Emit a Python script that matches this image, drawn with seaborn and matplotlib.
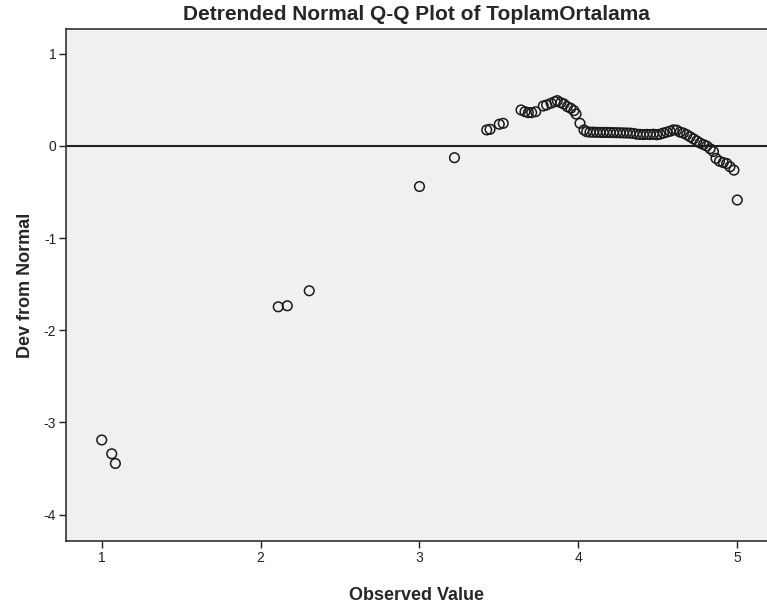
import numpy as np
import pandas as pd
import seaborn as sns
from matplotlib import pyplot as plt

observed = [1.000, 1.063, 1.086,
            2.111, 2.168, 2.306,
            3.000, 3.220,
            3.423, 3.444, 3.502, 3.527,
            3.639, 3.664, 3.685, 3.706, 3.731,
            3.779, 3.800, 3.828, 3.853, 3.867,
            3.889, 3.909, 3.930, 3.952, 3.972, 3.985,
            4.010, 4.035, 4.052,
            4.073, 4.094, 4.115, 4.136, 4.157, 4.178, 4.199, 4.220,
            4.241, 4.262, 4.283, 4.304, 4.325, 4.346, 4.367, 4.388,
            4.409, 4.430, 4.451, 4.472, 4.493, 4.514, 4.535, 4.556,
            4.577, 4.598, 4.619, 4.640, 4.661, 4.682, 4.703, 4.724,
            4.745, 4.766, 4.787, 4.808, 4.829, 4.850,
            4.866, 4.888, 4.912, 4.933, 4.954, 4.979,
            5.000]
dev_normal = [-3.190, -3.340, -3.445,
              -1.745, -1.734, -1.571,
              -0.440, -0.127,
              0.174, 0.181, 0.236, 0.246,
              0.391, 0.372, 0.362, 0.362, 0.372,
              0.434, 0.445, 0.464, 0.481, 0.492,
              0.470, 0.456, 0.427, 0.409, 0.383, 0.347,
              0.246, 0.174, 0.155,
              0.150, 0.150, 0.148, 0.148, 0.147, 0.147, 0.146, 0.145,
              0.144, 0.143, 0.142, 0.141, 0.140, 0.136, 0.128, 0.126,
              0.124, 0.126, 0.124, 0.128, 0.122, 0.128, 0.140, 0.150,
              0.160, 0.175, 0.172, 0.150, 0.140, 0.122, 0.100, 0.078,
              0.055, 0.032, 0.015, 0.000, -0.030, -0.060,
              -0.134, -0.165, -0.180, -0.190, -0.225, -0.262,
              -0.586]

x_ticks = [1, 2, 3, 4, 5]
y_ticks = [-4, -3, -2, -1, 0, 1]

df = pd.DataFrame({'observed': observed, 'dev': dev_normal})

sns.set_style('ticks', {'axes.facecolor': '#f0f0f0',
                        'axes.edgecolor': '#333333',
                        'xtick.color': '#333333',
                        'ytick.color': '#333333'})
plt.rcParams['font.family'] = ['Liberation Sans', 'DejaVu Sans']
plt.rcParams['axes.unicode_minus'] = False

fig = plt.figure(figsize=(7.67, 6.03), dpi=100)
ax = fig.add_axes([0.086, 0.103, 0.914, 0.849])

ax.axhline(0, color='#222222', lw=1.5, zorder=1)
sns.scatterplot(data=df, x='observed', y='dev', ax=ax, marker='o', s=48,
                facecolor='none', edgecolor='#1a1a1a', linewidth=1.1, zorder=2)

ax.set_xlim(0.775, 5.187)
ax.set_ylim(-4.285, 1.27)
ax.set_xticks(x_ticks)
ax.set_yticks(y_ticks)
ax.tick_params(length=5, width=1, labelsize=10, pad=2, colors='#222222')
for side in ['left', 'bottom', 'top']:
    ax.spines[side].set_linewidth(1.2)
ax.spines['right'].set_visible(False)

ax.set_title('Detrended Normal Q-Q Plot of ToplamOrtalama', fontsize=15,
             fontweight='bold', pad=6.5)
ax.set_xlabel('Observed Value', fontsize=13, fontweight='bold', labelpad=16)
ax.set_ylabel('Dev from Normal', fontsize=13, fontweight='bold', labelpad=7)

plt.savefig('out.png', dpi=100)
